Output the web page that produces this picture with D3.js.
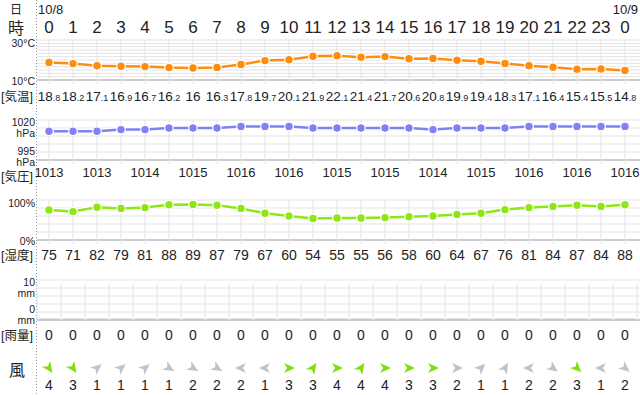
<!DOCTYPE html>
<html lang="ja">
<head>
<meta charset="UTF-8">
<title>時系列天気</title>
<script src="https://cdn.jsdelivr.net/npm/d3@7"></script>
<style>
    body { margin: 0; background: #fff; }
    text { font-family: "Liberation Sans", "Noto Sans CJK JP", sans-serif; fill: #222; }
</style>
</head>
<body>
<svg id="chart" width="640" height="395"></svg>
<script>
    // data
    let hours = [0, 1, 2, 3, 4, 5, 6, 7, 8, 9, 10, 11, 12, 13, 14, 15, 16, 17, 18, 19, 20, 21, 22, 23, 0]
    let temp = [18.8, 18.2, 17.1, 16.9, 16.7, 16.2, 16, 16.3, 17.8, 19.7, 20.1, 21.9, 22.1, 21.4, 21.7, 20.6, 20.8, 19.9, 19.4, 18.3, 17.1, 16.4, 15.4, 15.5, 14.8]
    let pressure = [1013, 1013, 1013, 1014, 1014, 1015, 1015, 1015, 1016, 1016, 1016, 1015, 1015, 1015, 1015, 1015, 1014, 1015, 1015, 1015, 1016, 1016, 1016, 1016, 1016]
    let humidity = [75, 71, 82, 79, 81, 88, 89, 87, 79, 67, 60, 54, 55, 55, 56, 58, 60, 64, 67, 76, 81, 84, 87, 84, 88]
    let rain = [0, 0, 0, 0, 0, 0, 0, 0, 0, 0, 0, 0, 0, 0, 0, 0, 0, 0, 0, 0, 0, 0, 0, 0, 0]
    let windSpeed = [4, 3, 1, 1, 1, 1, 2, 2, 2, 1, 3, 3, 4, 4, 4, 3, 3, 2, 1, 1, 2, 2, 3, 1, 2]
    // arrow heading in degrees on screen (0 = right, 90 = down)
    let windAngle = [55, 55, -40, -40, -40, 30, 30, 30, 180, 180, 0, -55, 0, -55, 0, 0, 0, 0, -45, -60, 180, 35, 45, 180, 40]

    let svg = d3.select("#chart")
    let x = d3.scaleLinear().domain([0, 24]).range([49, 625])
    let idx = d3.range(hours.length)

    let gridColor = "#e3e3e3"
    let axisColor = "#bdbdbd"

    // left dotted divider
    svg.append("line").attr("x1", 36.5).attr("x2", 36.5).attr("y1", 0).attr("y2", 395)
        .attr("stroke", "#999").attr("stroke-dasharray", "1,2")

    // header
    svg.append("text").attr("x", 16).attr("y", 14).attr("text-anchor", "middle").style("font-size", "12px").text("日")
    svg.append("text").attr("x", 38).attr("y", 14).style("font-size", "13px").text("10/8")
    svg.append("text").attr("x", 638).attr("y", 14).attr("text-anchor", "end").style("font-size", "13px").text("10/9")
    svg.append("text").attr("x", 16).attr("y", 34).attr("text-anchor", "middle").style("font-size", "16px").text("時")
    svg.selectAll(".hr").data(idx).enter().append("text")
        .attr("x", i => x(i)).attr("y", 33).attr("text-anchor", "middle")
        .style("font-size", "17px").text(i => hours[i])

    function panel(top, bottom, nLines) {
        let g = svg.append("g")
        d3.range(nLines + 1).forEach(k => {
            let yy = top + (bottom - top) * k / nLines
            g.append("line").attr("x1", 37).attr("x2", 640).attr("y1", yy).attr("y2", yy)
                .attr("stroke", k === nLines ? axisColor : gridColor).attr("stroke-width", k === nLines ? 1.5 : 1)
        })
        return g
    }

    function vlines(g, top, bottom, offset) {
        g.selectAll(".v").data(d3.range(offset ? 26 : 25)).enter().append("line")
            .attr("x1", i => x(i) - offset).attr("x2", i => x(i) - offset)
            .attr("y1", top).attr("y2", bottom)
            .attr("stroke", gridColor)
    }

    function series(values, y, color) {
        let line = d3.line().x((d, i) => x(i)).y(d => y(d))
        svg.append("path").datum(values).attr("d", line)
            .attr("fill", "none").attr("stroke", "#fff").attr("stroke-width", 5)
        svg.append("path").datum(values).attr("d", line)
            .attr("fill", "none").attr("stroke", color).attr("stroke-width", 2.5)
        svg.selectAll(null).data(values).enter().append("circle")
            .attr("cx", (d, i) => x(i)).attr("cy", d => y(d)).attr("r", 4.3)
            .attr("fill", color).attr("stroke", "#fff").attr("stroke-width", 1.2)
    }

    function sideLabel(txt, yy, size) {
        svg.append("text").attr("x", 35).attr("y", yy).attr("text-anchor", "end")
            .style("font-size", (size || 10.5) + "px").text(txt)
    }

    function rowLabel(txt, yy) {
        svg.append("text").attr("x", 1).attr("y", yy).style("font-size", "12.5px").text(txt)
    }

    // temperature
    let yT = d3.scaleLinear().domain([10, 30]).range([80, 40])
    let gT = panel(40, 80, 12)
    vlines(gT, 40, 84, 0)
    series(temp, yT, "#ff8c0a")
    sideLabel("30°C", 47)
    sideLabel("10°C", 85)
    rowLabel("[気温]", 101)
    let tt = svg.selectAll(".tv").data(temp).enter().append("text")
        .attr("x", (d, i) => x(i)).attr("y", 101).attr("text-anchor", "middle").style("font-size", "13.5px")
    tt.append("tspan").text(d => Math.floor(d))
    tt.append("tspan").style("font-size", "9px")
        .text(d => Number.isInteger(d) ? "" : "." + Math.round((d % 1) * 10))

    // pressure
    let yP = d3.scaleLinear().domain([995, 1020]).range([160, 120])
    let gP = panel(120, 160, 5)
    vlines(gP, 120, 164, 0)
    series(pressure, yP, "#8080f8")
    sideLabel("1020", 126)
    sideLabel("hPa", 137)
    sideLabel("995", 154.5)
    sideLabel("hPa", 165.5)
    rowLabel("[気圧]", 181)
    svg.selectAll(".pv").data(idx.filter(i => i % 2 === 0)).enter().append("text")
        .attr("x", i => x(i)).attr("y", 177).attr("text-anchor", "middle").style("font-size", "13px")
        .text(i => pressure[i])

    // humidity
    let yH = d3.scaleLinear().domain([0, 100]).range([240, 200])
    let gH = panel(200, 240, 5)
    vlines(gH, 200, 244, 0)
    series(humidity, yH, "#8ee614")
    sideLabel("100%", 207)
    sideLabel("0%", 244.5)
    rowLabel("[湿度]", 260)
    svg.selectAll(".hv").data(humidity).enter().append("text")
        .attr("x", (d, i) => x(i)).attr("y", 260).attr("text-anchor", "middle").style("font-size", "14px")
        .text(d => d)

    // rain
    let yR = d3.scaleLinear().domain([0, 10]).range([320, 280])
    let gR = panel(280, 320, 5)
    vlines(gR, 284, 320, 12)
    svg.selectAll(".rb").data(rain).enter().append("rect")
        .attr("x", (d, i) => x(i) - 10).attr("width", 20)
        .attr("y", d => yR(d) - 1.5).attr("height", d => yR(0) - yR(d) + 1.5)
        .attr("fill", "#c8c8c8")
    sideLabel("10", 285.5)
    sideLabel("mm", 296.5)
    sideLabel("0", 313)
    sideLabel("mm", 324)
    rowLabel("[雨量]", 340)
    svg.selectAll(".rv").data(rain).enter().append("text")
        .attr("x", (d, i) => x(i)).attr("y", 340).attr("text-anchor", "middle").style("font-size", "14px")
        .text(d => d)

    // wind
    svg.append("text").attr("x", 17).attr("y", 376).attr("text-anchor", "middle").style("font-size", "16px").text("風")
    svg.selectAll(".wa").data(idx).enter().append("path")
        .attr("d", "M6,0 L-5,-5 L-2,0 L-5,5 Z")
        .attr("transform", i => "translate(" + x(i) + ",368) rotate(" + windAngle[i] + ")")
        .attr("fill", i => windSpeed[i] >= 3 ? "#7fe010" : "#c2c2c2")
    svg.selectAll(".wv").data(windSpeed).enter().append("text")
        .attr("x", (d, i) => x(i)).attr("y", 390).attr("text-anchor", "middle").style("font-size", "14px")
        .text(d => d)
</script>
</body>
</html>
